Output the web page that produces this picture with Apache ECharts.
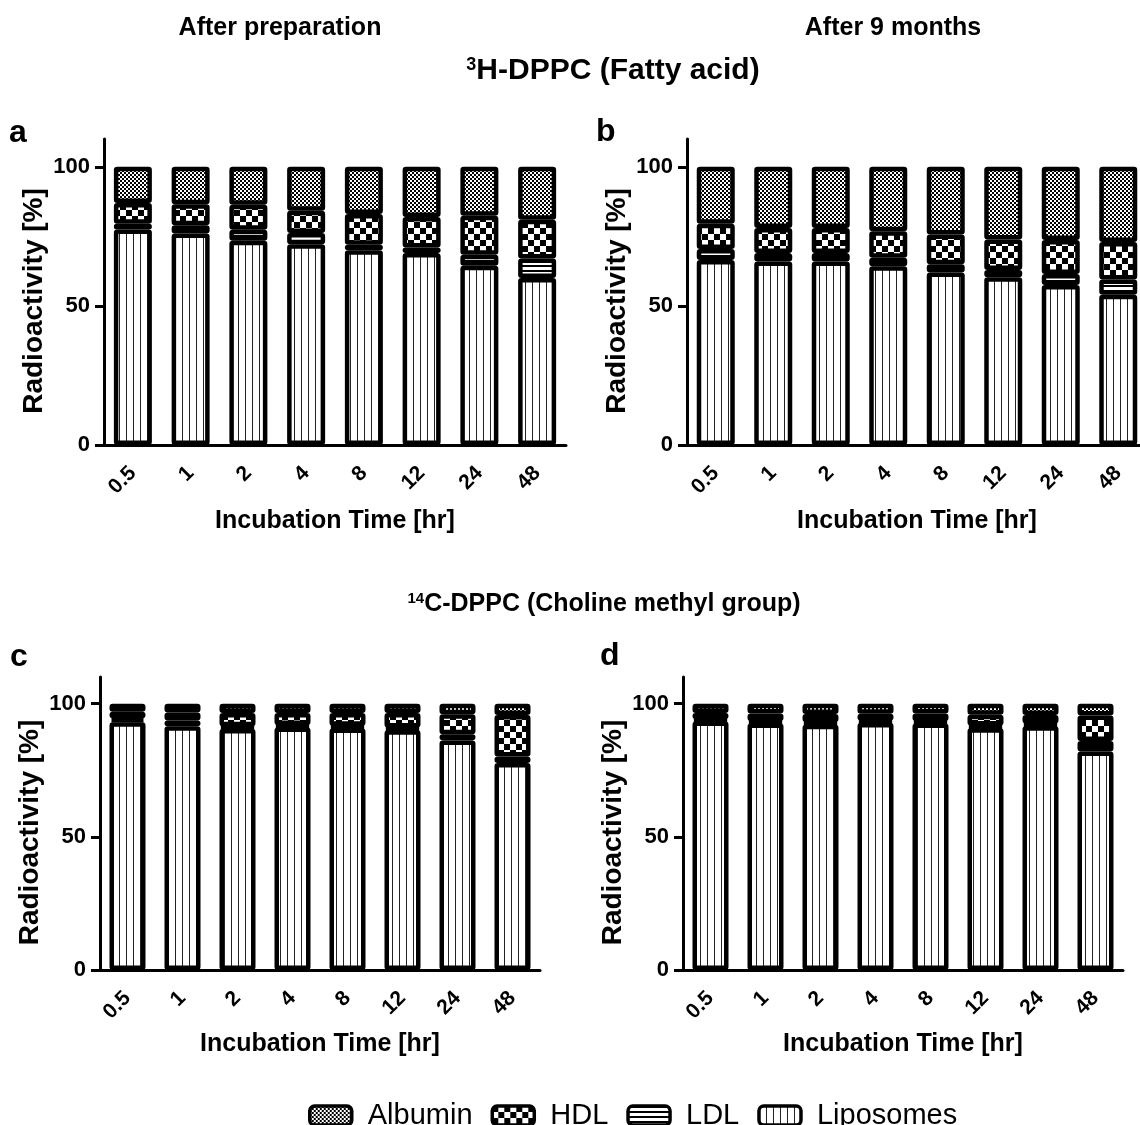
<!DOCTYPE html>
<html>
<head>
<meta charset="utf-8">
<title>DPPC radioactivity distribution</title>
<script src="https://cdn.jsdelivr.net/npm/echarts@6.0.0/dist/echarts.min.js"></script>
<style>
  html, body { margin: 0; padding: 0; background: #fff; }
  #container { width: 1140px; height: 1125px; }
</style>
</head>
<body>
<div id="container"></div>
<script>
var categories = ['0.5', '1', '2', '4', '8', '12', '24', '48'];
var yTicks = [0, 50, 100];
var legendNames = ['Albumin', 'HDL', 'LDL', 'Liposomes'];

// a: 3H-DPPC, after preparation
var aLiposomes = [77.5, 76, 73.4, 72.2, 70, 69, 64.4, 60];
var aLDL       = [2, 3, 4, 4, 2, 2, 4, 7];
var aHDL       = [7.5, 7.5, 9, 8, 11, 11, 14, 14];
var aAlbumin   = [13, 13.5, 13.6, 15.8, 17, 18, 17.6, 19];

// b: 3H-DPPC, after 9 months
var bLiposomes = [66.5, 66, 66, 64.3, 62, 60.3, 57.5, 54];
var bLDL       = [4, 3, 3, 3, 3, 2.6, 4, 5.5];
var bHDL       = [9, 9, 9, 9.5, 10.7, 11, 12.2, 13.5];
var bAlbumin   = [20.5, 22, 22, 23.2, 24.3, 26.1, 26.3, 27];

// c: 14C-DPPC, after preparation
var cLiposomes = [93, 91.5, 90.5, 91, 90.7, 90, 86.2, 77.7];
var cLDL       = [1.5, 2.2, 1, 1, 1, 1, 2.3, 2.5];
var cHDL       = [2.5, 3, 5, 4.5, 4.8, 5.5, 7.5, 15.5];
var cAlbumin   = [3, 3.3, 3.5, 3.5, 3.5, 3.5, 4, 4.3];

// d: 14C-DPPC, after 9 months
var dLiposomes = [93.3, 92.5, 92.1, 92.7, 92.5, 90.8, 91.5, 82];
var dLDL       = [1, 1, 1, 1, 1, 1, 1, 4];
var dHDL       = [2.2, 2.8, 3, 2.5, 2.8, 4, 3.2, 9.5];
var dAlbumin   = [3.5, 3.7, 3.9, 3.8, 3.7, 4.2, 4.3, 4.5];

var FONT = "'Liberation Sans', Arial, Helvetica, sans-serif";

// black & white fill patterns
function makePattern(w, h, draw) {
	var c = document.createElement('canvas');
	c.width = w; c.height = h;
	var ctx = c.getContext('2d');
	ctx.fillStyle = '#fff';
	ctx.fillRect(0, 0, w, h);
	ctx.fillStyle = '#000';
	draw(ctx);
	return { image: c, repeat: 'repeat' };
}
var albuminFill = makePattern(4, 4, function(ctx){ ctx.fillRect(0, 0, 2, 2); ctx.fillRect(2, 2, 2, 2); });
var hdlFill = makePattern(12, 12, function(ctx){ ctx.fillRect(0, 0, 6, 6); ctx.fillRect(6, 6, 6, 6); });
var ldlFill = makePattern(1, 5, function(ctx){ ctx.fillRect(0, 0, 1, 2); });
var lipoFill = makePattern(7, 1, function(ctx){ ctx.fillStyle = '#222'; ctx.fillRect(0, 0, 1, 1); });

function panelSeries(idx, lipo, ldl, hdl, alb, barW) {
	var list = [
		['Liposomes', lipo, lipoFill],
		['LDL', ldl, ldlFill],
		['HDL', hdl, hdlFill],
		['Albumin', alb, albuminFill]
	];
	return list.map(function(s){
		return {
			name: s[0], type: 'bar', stack: 'p' + idx,
			xAxisIndex: idx, yAxisIndex: idx,
			barWidth: barW, data: s[1],
			itemStyle: { color: s[2], borderColor: '#000', borderWidth: 4.5, borderRadius: 1 },
			emphasis: { disabled: true }
		};
	});
}

function xAxisFor(idx, gap) {
	return {
		type: 'category', gridIndex: idx, data: categories,
		name: 'Incubation Time [hr]', nameLocation: 'middle', nameGap: gap,
		nameTextStyle: { fontFamily: FONT, fontWeight: 'bold', fontSize: 25, color: '#000' },
		axisLine: { lineStyle: { color: '#000', width: 3 } },
		axisTick: { alignWithLabel: true, length: 9, lineStyle: { color: '#000', width: 3 } },
		axisLabel: { rotate: 45, margin: 25, interval: 0, fontFamily: FONT, fontWeight: 'bold', fontSize: 21, color: '#000' }
	};
}

function yAxisFor(idx) {
	return {
		type: 'value', gridIndex: idx, min: 0, max: 110, interval: 50,
		name: 'Radioactivity [%]', nameLocation: 'middle', nameGap: 56,
		nameTextStyle: { fontFamily: FONT, fontWeight: 'bold', fontSize: 28, color: '#000', padding: [0, 18, 0, 0] },
		axisLine: { show: true, lineStyle: { color: '#000', width: 3 } },
		axisTick: { show: true, length: 9, customValues: yTicks, lineStyle: { color: '#000', width: 3 } },
		axisLabel: { customValues: yTicks, margin: 14, fontFamily: FONT, fontWeight: 'bold', fontSize: 22, color: '#000' },
		splitLine: { show: false }
	};
}

function label(text, x, y, size, align) {
	return {
		type: 'text', x: x, y: y, silent: true,
		style: {
			text: text, fill: '#000', fontFamily: FONT, fontWeight: 'bold', fontSize: size,
			align: align || 'center', verticalAlign: 'middle',
			textAlign: align || 'center', textVerticalAlign: 'middle'
		}
	};
}

function supTitle(sup, main, x, y, size) {
	return {
		type: 'text', x: x, y: y, silent: true,
		style: {
			text: '{s|' + sup + '}{m|' + main + '}',
			align: 'center', verticalAlign: 'middle',
			textAlign: 'center', textVerticalAlign: 'middle',
			rich: {
				s: { fontFamily: FONT, fontWeight: 'bold', fontSize: Math.round(size * 0.6), fill: '#000', verticalAlign: 'top' },
				m: { fontFamily: FONT, fontWeight: 'bold', fontSize: size, fill: '#000' }
			}
		}
	};
}

var chart = echarts.init(document.getElementById('container'));
var option = {
	animation: false,
	backgroundColor: '#fff',
	grid: [
		{ left: 104, top: 139, width: 462, height: 306, outerBoundsMode: 'none' },
		{ left: 687, top: 139, width: 460, height: 306, outerBoundsMode: 'none' },
		{ left: 100, top: 677, width: 440, height: 293, outerBoundsMode: 'none' },
		{ left: 683, top: 677, width: 440, height: 293, outerBoundsMode: 'none' }
	],
	xAxis: [xAxisFor(0, 64), xAxisFor(1, 64), xAxisFor(2, 62), xAxisFor(3, 62)],
	yAxis: [yAxisFor(0), yAxisFor(1), yAxisFor(2), yAxisFor(3)],
	legend: {
		data: legendNames, left: 303, top: 1096,
		itemWidth: 42, itemHeight: 19, itemGap: 18, icon: 'roundRect',
		selectedMode: false,
		itemStyle: { borderColor: '#000', borderWidth: 3.5 },
		textStyle: { fontFamily: FONT, fontSize: 29, color: '#000', padding: [0, 0, 0, 11] }
	},
	graphic: [
		label('After preparation', 280, 28, 25),
		label('After 9 months', 893, 28, 25),
		supTitle('3', 'H-DPPC (Fatty acid)', 613, 71, 30),
		supTitle('14', 'C-DPPC (Choline methyl group)', 604, 604, 25),
		label('a', 9, 133, 32, 'left'),
		label('b', 596, 132, 32, 'left'),
		label('c', 10, 657, 32, 'left'),
		label('d', 600, 656, 32, 'left')
	],
	series: [].concat(
		panelSeries(0, aLiposomes, aLDL, aHDL, aAlbumin, 38),
		panelSeries(1, bLiposomes, bLDL, bHDL, bAlbumin, 38),
		panelSeries(2, cLiposomes, cLDL, cHDL, cAlbumin, 36),
		panelSeries(3, dLiposomes, dLDL, dHDL, dAlbumin, 36)
	)
};
chart.setOption(option);
</script>
</body>
</html>
